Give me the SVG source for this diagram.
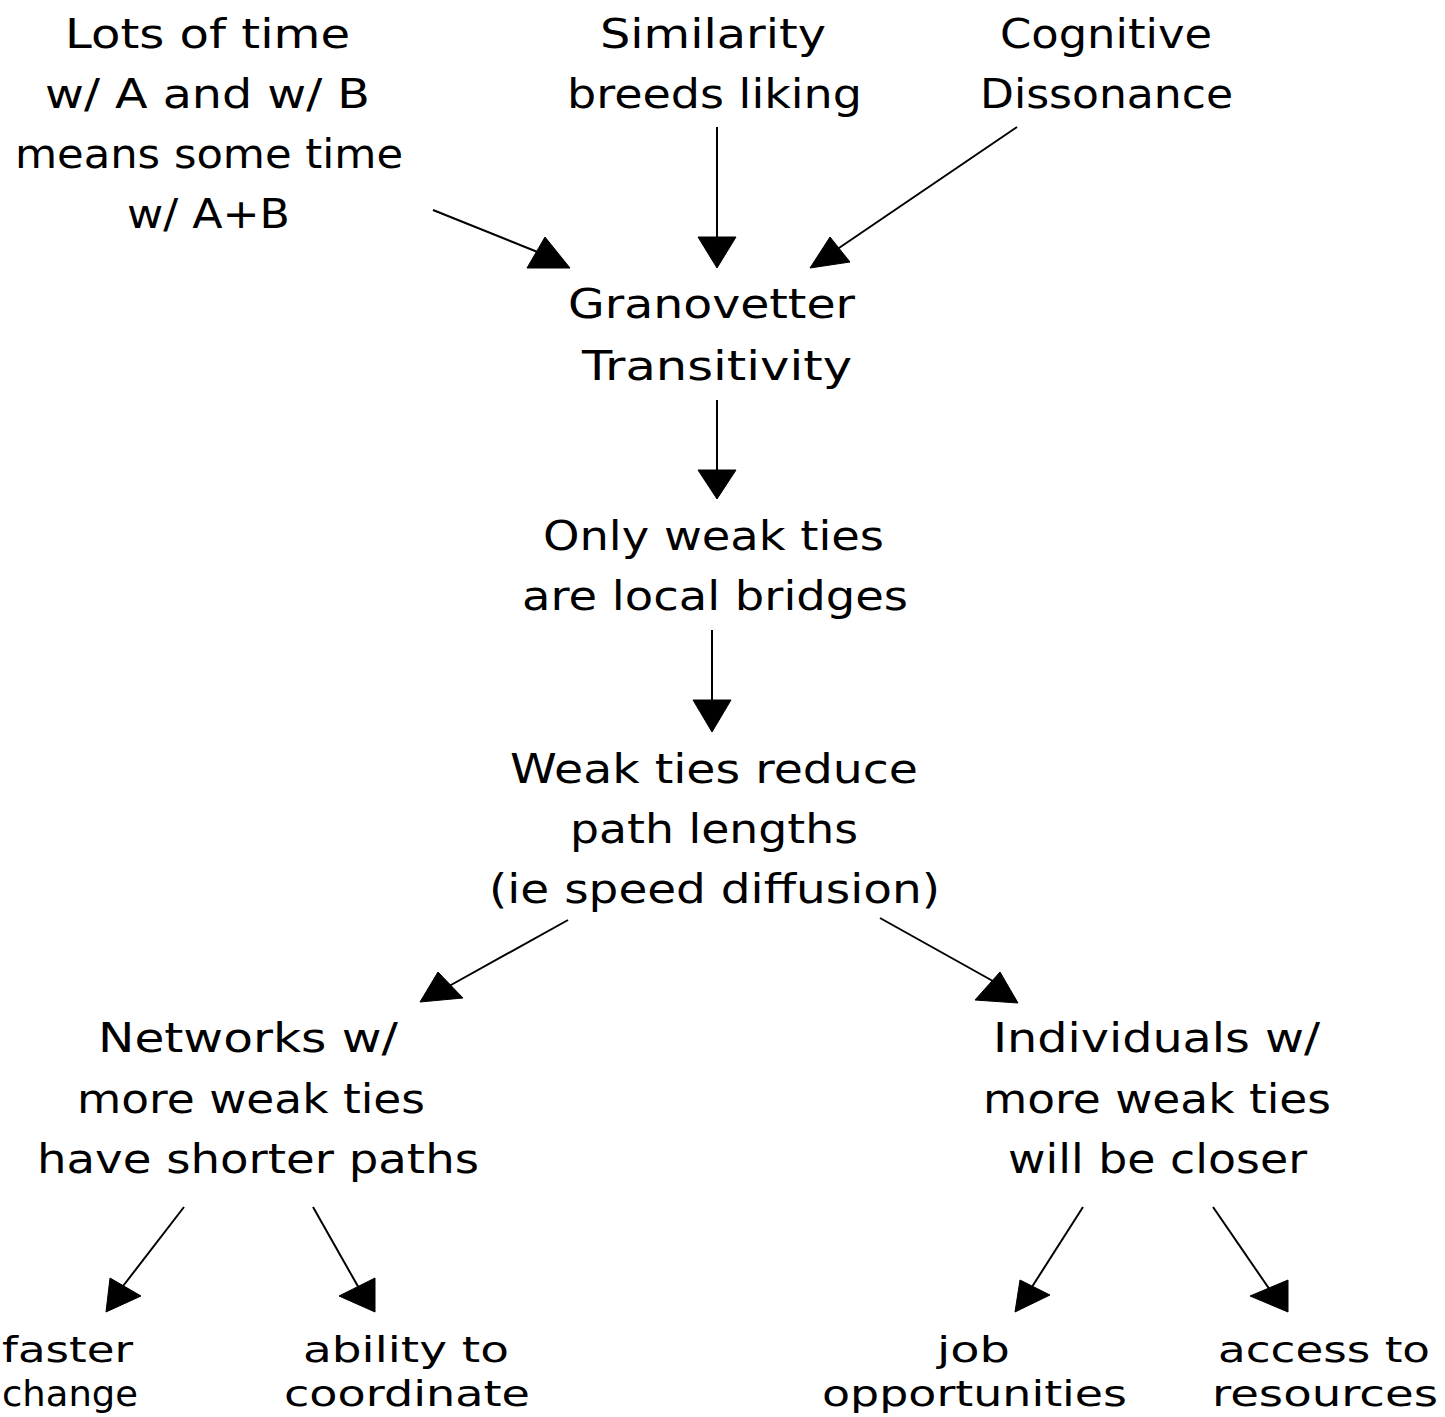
<svg xmlns="http://www.w3.org/2000/svg" width="1445" height="1417" viewBox="0 0 1445 1417">
<style>
text{font-family:"DejaVu Sans","Liberation Sans",sans-serif;font-size:40px;fill:#000;}
text.sm{font-size:36px;}
.ln{stroke:#000;stroke-width:2;fill:none;}
.hd{fill:#000;stroke:#000;stroke-width:1;}
</style>
<rect width="1445" height="1417" fill="#fff"/>
<g id="n-lots">
<text x="65" y="48" textLength="285" lengthAdjust="spacingAndGlyphs">Lots of time</text>
<text x="45" y="108" textLength="325" lengthAdjust="spacingAndGlyphs">w/ A and w/ B</text>
<text x="15" y="168" textLength="388" lengthAdjust="spacingAndGlyphs">means some time</text>
<text x="127" y="228" textLength="163" lengthAdjust="spacingAndGlyphs">w/ A+B</text>
</g>
<g id="n-similarity">
<text x="600" y="48" textLength="226" lengthAdjust="spacingAndGlyphs">Similarity</text>
<text x="567" y="108" textLength="295" lengthAdjust="spacingAndGlyphs">breeds liking</text>
</g>
<g id="n-cognitive">
<text x="1000" y="48" textLength="212" lengthAdjust="spacingAndGlyphs">Cognitive</text>
<text x="980" y="108" textLength="253" lengthAdjust="spacingAndGlyphs">Dissonance</text>
</g>
<g id="n-granovetter">
<text x="568" y="318" textLength="287" lengthAdjust="spacingAndGlyphs">Granovetter</text>
<text x="582" y="380" textLength="270" lengthAdjust="spacingAndGlyphs">Transitivity</text>
</g>
<g id="n-onlyweak">
<text x="543" y="550" textLength="341" lengthAdjust="spacingAndGlyphs">Only weak ties</text>
<text x="522" y="610" textLength="386" lengthAdjust="spacingAndGlyphs">are local bridges</text>
</g>
<g id="n-reduce">
<text x="510" y="783" textLength="408" lengthAdjust="spacingAndGlyphs">Weak ties reduce</text>
<text x="570" y="843" textLength="288" lengthAdjust="spacingAndGlyphs">path lengths</text>
<text x="489" y="903" textLength="451" lengthAdjust="spacingAndGlyphs">(ie speed diffusion)</text>
</g>
<g id="n-networks">
<text x="98" y="1052" textLength="300" lengthAdjust="spacingAndGlyphs">Networks w/</text>
<text x="77" y="1113" textLength="348" lengthAdjust="spacingAndGlyphs">more weak ties</text>
<text x="37" y="1173" textLength="442" lengthAdjust="spacingAndGlyphs">have shorter paths</text>
</g>
<g id="n-individuals">
<text x="993" y="1052" textLength="327" lengthAdjust="spacingAndGlyphs">Individuals w/</text>
<text x="983" y="1113" textLength="348" lengthAdjust="spacingAndGlyphs">more weak ties</text>
<text x="1008" y="1173" textLength="299" lengthAdjust="spacingAndGlyphs">will be closer</text>
</g>
<g id="n-faster">
<text class="sm" x="2" y="1362" textLength="131" lengthAdjust="spacingAndGlyphs">faster</text>
<text class="sm" x="2" y="1406" textLength="136" lengthAdjust="spacingAndGlyphs">change</text>
</g>
<g id="n-ability">
<text class="sm" x="303" y="1362" textLength="206" lengthAdjust="spacingAndGlyphs">ability to</text>
<text class="sm" x="284" y="1406" textLength="246" lengthAdjust="spacingAndGlyphs">coordinate</text>
</g>
<g id="n-job">
<text class="sm" x="937" y="1362" textLength="73" lengthAdjust="spacingAndGlyphs">job</text>
<text class="sm" x="822" y="1406" textLength="305" lengthAdjust="spacingAndGlyphs">opportunities</text>
</g>
<g id="n-access">
<text class="sm" x="1218" y="1362" textLength="212" lengthAdjust="spacingAndGlyphs">access to</text>
<text class="sm" x="1212" y="1406" textLength="226" lengthAdjust="spacingAndGlyphs">resources</text>
</g>
<g id="connectors">
<line class="ln" x1="433" y1="210" x2="545" y2="255"/>
<polygon class="hd" points="527,268 545,237 570,268"/>
<line class="ln" x1="717" y1="127" x2="717" y2="240"/>
<polygon class="hd" points="698,237 736,237 717,268"/>
<line class="ln" x1="1017" y1="127" x2="836" y2="250"/>
<polygon class="hd" points="810,268 830,237 850,262"/>
<line class="ln" x1="717" y1="400" x2="717" y2="472"/>
<polygon class="hd" points="698,470 736,470 717,499"/>
<line class="ln" x1="712" y1="630" x2="712" y2="702"/>
<polygon class="hd" points="693,700 731,700 712,732"/>
<line class="ln" x1="568" y1="920" x2="442" y2="990"/>
<polygon class="hd" points="420,1002 438,972 463,998"/>
<line class="ln" x1="880" y1="918" x2="1000" y2="985"/>
<polygon class="hd" points="975,1000 1000,972 1018,1003"/>
<line class="ln" x1="184" y1="1207" x2="120" y2="1290"/>
<polygon class="hd" points="106,1312 110,1278 141,1296"/>
<line class="ln" x1="313" y1="1207" x2="360" y2="1290"/>
<polygon class="hd" points="339,1296 375,1278 375,1312"/>
<line class="ln" x1="1083" y1="1207" x2="1030" y2="1290"/>
<polygon class="hd" points="1015,1312 1020,1280 1050,1295"/>
<line class="ln" x1="1213" y1="1207" x2="1270" y2="1290"/>
<polygon class="hd" points="1250,1296 1288,1280 1288,1312"/>
</g>
</svg>
